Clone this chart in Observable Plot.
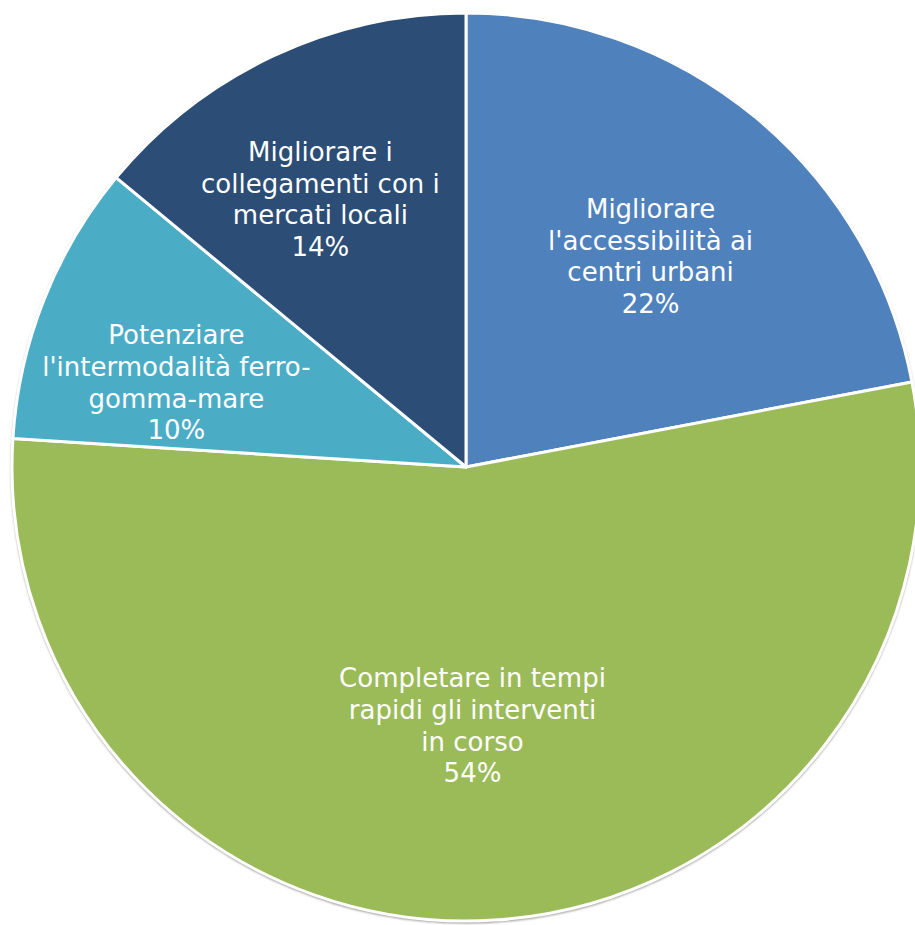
<!DOCTYPE html>
<html><head><meta charset="utf-8">
<script src="https://cdn.jsdelivr.net/npm/d3@7"></script>
<script src="https://cdn.jsdelivr.net/npm/@observablehq/plot@0.6"></script>
<style>body{margin:0;background:#fff;} svg{display:block;}</style>
</head><body>
<div id="chart"></div>
<script>
const categories = [
  "Migliorare l'accessibilità ai centri urbani",
  "Completare in tempi rapidi gli interventi in corso",
  "Potenziare l'intermodalità ferro-gomma-mare",
  "Migliorare i collegamenti con i mercati locali"
];
const labelLines = [
  ["Migliorare", "l'accessibilità ai", "centri urbani"],
  ["Completare in tempi", "rapidi gli interventi", "in corso"],
  ["Potenziare", "l'intermodalità ferro-", "gomma-mare"],
  ["Migliorare i", "collegamenti con i", "mercati locali"]
];
const values = [22, 54, 10, 14];
const colors = ["#4F81BD", "#9BBB59", "#4BACC6", "#2C4D75"];

// layout constants (not data)
const R = 454;
const W = 915, H = 925;
const cx = 466, cy = 467;
const labelRadius = [0.620, 0.5675, 0.668, 0.676];
const labelAngleShift = [1.35, 2.26, -5.08, -3.29]; // degrees

const data = categories.map((c, i) => ({category: c, value: values[i], lines: labelLines[i], i}));
const arcs = d3.pie().sort(null).value(d => d.value)(data);

const pieMark = (index, scales) => {
  const g = d3.create("svg:g");
  const x0 = scales.x(0), y0 = scales.y(0);
  const defs = g.append("defs");
  defs.append("filter").attr("id", "pieShadow").attr("x", "-5%").attr("y", "-5%").attr("width", "110%").attr("height", "110%")
    .append("feGaussianBlur").attr("stdDeviation", 1.2);
  g.append("circle")
    .attr("cx", x0).attr("cy", y0 + 1.5).attr("r", R + 1)
    .attr("fill", "#9a9a9a")
    .attr("filter", "url(#pieShadow)");
  const arc = d3.arc().innerRadius(0).outerRadius(R);
  g.append("g").attr("transform", `translate(${x0},${y0})`)
    .selectAll("path").data(arcs).join("path")
    .attr("d", arc)
    .attr("fill", d => scales.color(d.data.category))
    .attr("stroke", "#fff")
    .attr("stroke-width", 3)
    .attr("stroke-linejoin", "round");
  return g.node();
};

const textRows = arcs.map(a => {
  const i = a.data.i;
  const mid = (a.startAngle + a.endAngle) / 2 + labelAngleShift[i] * Math.PI / 180;
  return {
    x: Math.sin(mid) * labelRadius[i] * 453 / R,
    y: Math.cos(mid) * labelRadius[i] * 453 / R,
    text: [...a.data.lines, a.data.value + "%"].join("\n")
  };
});

const chart = Plot.plot({
  width: W, height: H,
  margin: 0,
  x: {domain: [-cx / R, (W - cx) / R], axis: null},
  y: {domain: [-(H - cy) / R, cy / R], axis: null},
  color: {domain: categories, range: colors},
  marks: [
    pieMark,
    Plot.text(textRows, {
      x: "x", y: "y", text: "text",
      fill: "white", fontSize: 26, lineHeight: 1.225,
      fontFamily: "DejaVu Sans", textAnchor: "middle"
    })
  ]
});
chart.style.fontFamily = "DejaVu Sans";
document.getElementById("chart").append(chart);
</script>
</body></html>
